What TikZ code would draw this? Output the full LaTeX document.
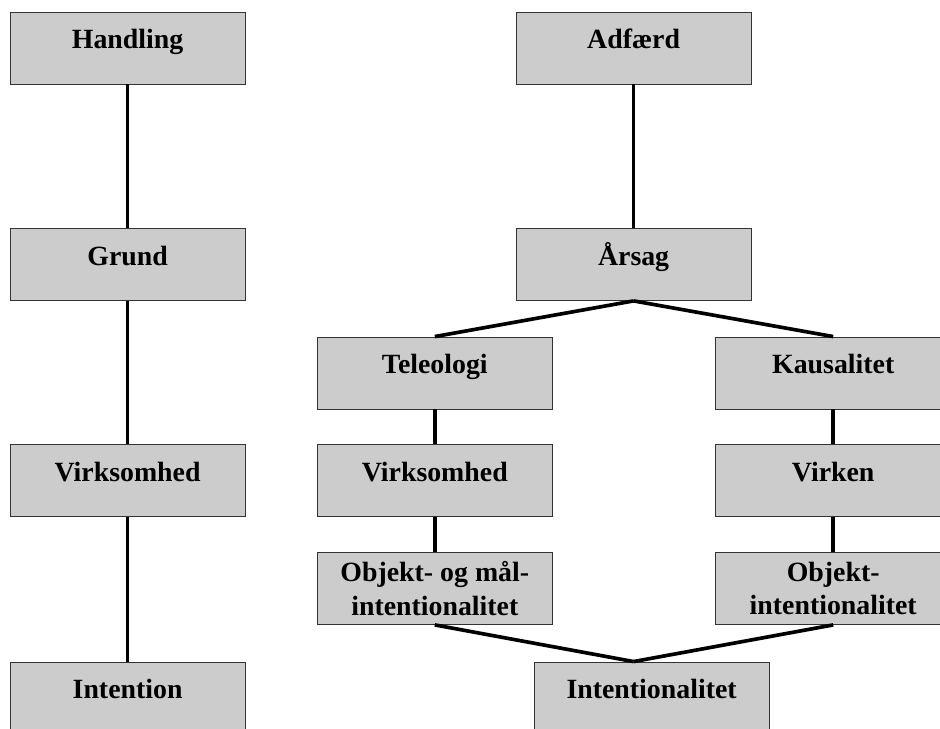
\documentclass[tikz,border=0pt]{standalone}
\usepackage{fontspec}
\setmainfont{Liberation Serif}
\usepackage{xcolor}
\definecolor{boxfill}{HTML}{CCCCCC}
\definecolor{boxline}{HTML}{333333}

\begin{document}
\begin{tikzpicture}[
    box/.style={draw=boxline, fill=boxfill, line width=0.6pt,
                minimum width=5.875cm, minimum height=1.8cm, inner sep=0pt,
                font=\fontsize{19.8}{24}\selectfont\bfseries},
    oneline/.style={box, text height=0.925cm, text depth=0.875cm},
    twoline/.style={box, align=center},
    link/.style={draw=black, line width=2.6pt},
]
\useasboundingbox (0,0) rectangle (23.5,18.225);

% Venstre søjle
\node[oneline] (handling) at (3.19, 17.025) {Handling};
\node[oneline] (grund) at (3.19, 11.6125) {Grund};
\node[oneline] (virksomhedL) at (3.19, 6.2125) {Virksomhed};
\node[oneline] (intention) at (3.19, 0.775) {Intention};

% Højre søjle
\node[oneline] (adfaerd) at (15.84, 17.025) {Adfærd};
\node[oneline] (aarsag) at (15.84, 11.6125) {Årsag};

\node[oneline] (teleologi) at (10.87, 8.9) {Teleologi};
\node[oneline] (kausalitet) at (20.83, 8.9) {Kausalitet};
\node[oneline] (virksomhedR) at (10.87, 6.2125) {Virksomhed};
\node[oneline] (virken) at (20.83, 6.2125) {Virken};
\node[twoline] (objmaal) at (10.87, 3.5125) {Objekt- og mål-\\intentionalitet};
\node[twoline] (objekt) at (20.83, 3.5125) {Objekt-\\intentionalitet};

\node[oneline] (intentionalitet) at (16.29, 0.775) {Intentionalitet};
\coordinate (moede) at (aarsag.south |- intentionalitet.north);

% Streger
\draw[link] (handling) -- (grund);
\draw[link] (grund) -- (virksomhedL);
\draw[link] (virksomhedL) -- (intention);

\draw[link] (adfaerd) -- (aarsag);
\draw[link] (aarsag.south) -- (teleologi.north);
\draw[link] (aarsag.south) -- (kausalitet.north);
\draw[link] (teleologi) -- (virksomhedR);
\draw[link] (virksomhedR) -- (objmaal);
\draw[link] (kausalitet) -- (virken);
\draw[link] (virken) -- (objekt);
\draw[link] (objmaal.south) -- (moede);
\draw[link] (objekt.south) -- (moede);

\end{tikzpicture}
\end{document}
